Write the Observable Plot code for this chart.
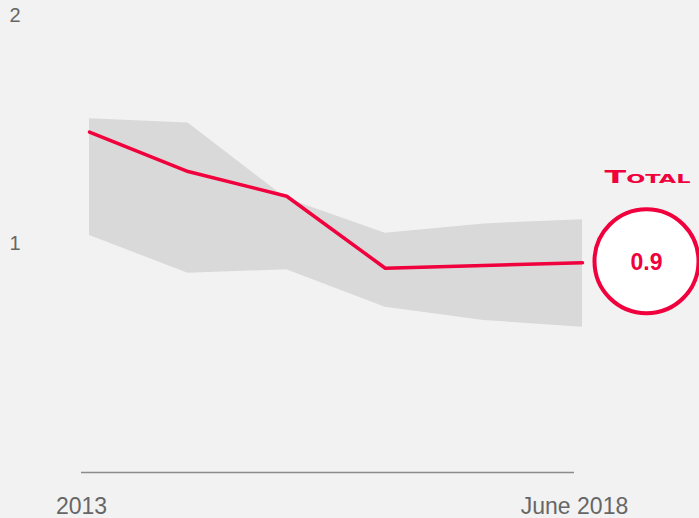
<!DOCTYPE html>
<html>
<head>
<meta charset="utf-8">
<script src="https://cdn.jsdelivr.net/npm/d3@7"></script>
<script src="https://cdn.jsdelivr.net/npm/@observablehq/plot@0.6"></script>
<style>
  html, body { margin: 0; padding: 0; background: #f2f2f2; }
  #chart svg { display: block; }
</style>
</head>
<body>
<div id="chart"></div>
<script>
// Data
const periods = [0, 1, 2, 3, 4, 5];                 // 2013 … June 2018
const totalValues = [1.49, 1.317, 1.209, 0.894, 0.906, 0.918];
const bandUpper = [1.548, 1.529, 1.199, 1.047, 1.088, 1.106];
const bandLower = [1.037, 0.872, 0.887, 0.723, 0.665, 0.636];
const xTickLabels = [{at: 0, label: "2013"}, {at: 5, label: "June 2018"}];
const yTickValues = [1, 2];
const highlightLabel = "0.9";
const brandName = "Total";

const rows = periods.map((p, i) => ({p, v: totalValues[i], lo: bandLower[i], hi: bandUpper[i]}));
const last = rows[rows.length - 1];

const RED = "#f0003c";
const FONT = "'Liberation Sans', 'DejaVu Sans', sans-serif";

const chart = Plot.plot({
  width: 699,
  height: 518,
  margin: 0,
  style: {background: "#f2f2f2", fontFamily: FONT, overflow: "visible"},
  x: {domain: [0, 5], range: [89, 582], axis: null},
  y: {domain: [0, 2], range: [472, 15], axis: null},
  marks: [
    Plot.areaY(rows, {x: "p", y1: "lo", y2: "hi", fill: "#d9d9d9", curve: "linear"}),
    Plot.ruleY([0], {x1: 0, x2: 5, dx: -8, stroke: "#8c8c8c", strokeWidth: 1.6}),
    Plot.text(xTickLabels, {x: "at", y: 0, text: "label", dx: -8, dy: 34, fill: "#666", fontSize: 23}),
    Plot.text(yTickValues, {y: d => d, text: d => String(d), frameAnchor: "left", dx: 9, textAnchor: "start", fill: "#666", fontSize: 20}),
    Plot.line(rows, {x: "p", y: "v", stroke: RED, strokeWidth: 3.5, strokeLinejoin: "round"}),
    Plot.dot([last], {x: "p", y: "v", dx: 64, dy: -1.5, r: 52, fill: "white", stroke: RED, strokeWidth: 4}),
    Plot.text([last], {x: "p", y: "v", dx: 64, dy: 0, text: () => highlightLabel, fill: RED, fontSize: 23, fontWeight: "bold"}),
    Plot.text([last], {x: "p", y: "v", dx: 65, dy: -85, text: () => brandName, fill: RED, fontSize: 17, fontWeight: "bold", fontVariant: "small-caps", fontFamily: "'DejaVu Sans', sans-serif", className: "brand"})
  ]
});
document.getElementById("chart").appendChild(chart);
chart.querySelectorAll(".brand text").forEach(t => {
  t.setAttribute("textLength", "86");
  t.setAttribute("lengthAdjust", "spacingAndGlyphs");
});
</script>
</body>
</html>
